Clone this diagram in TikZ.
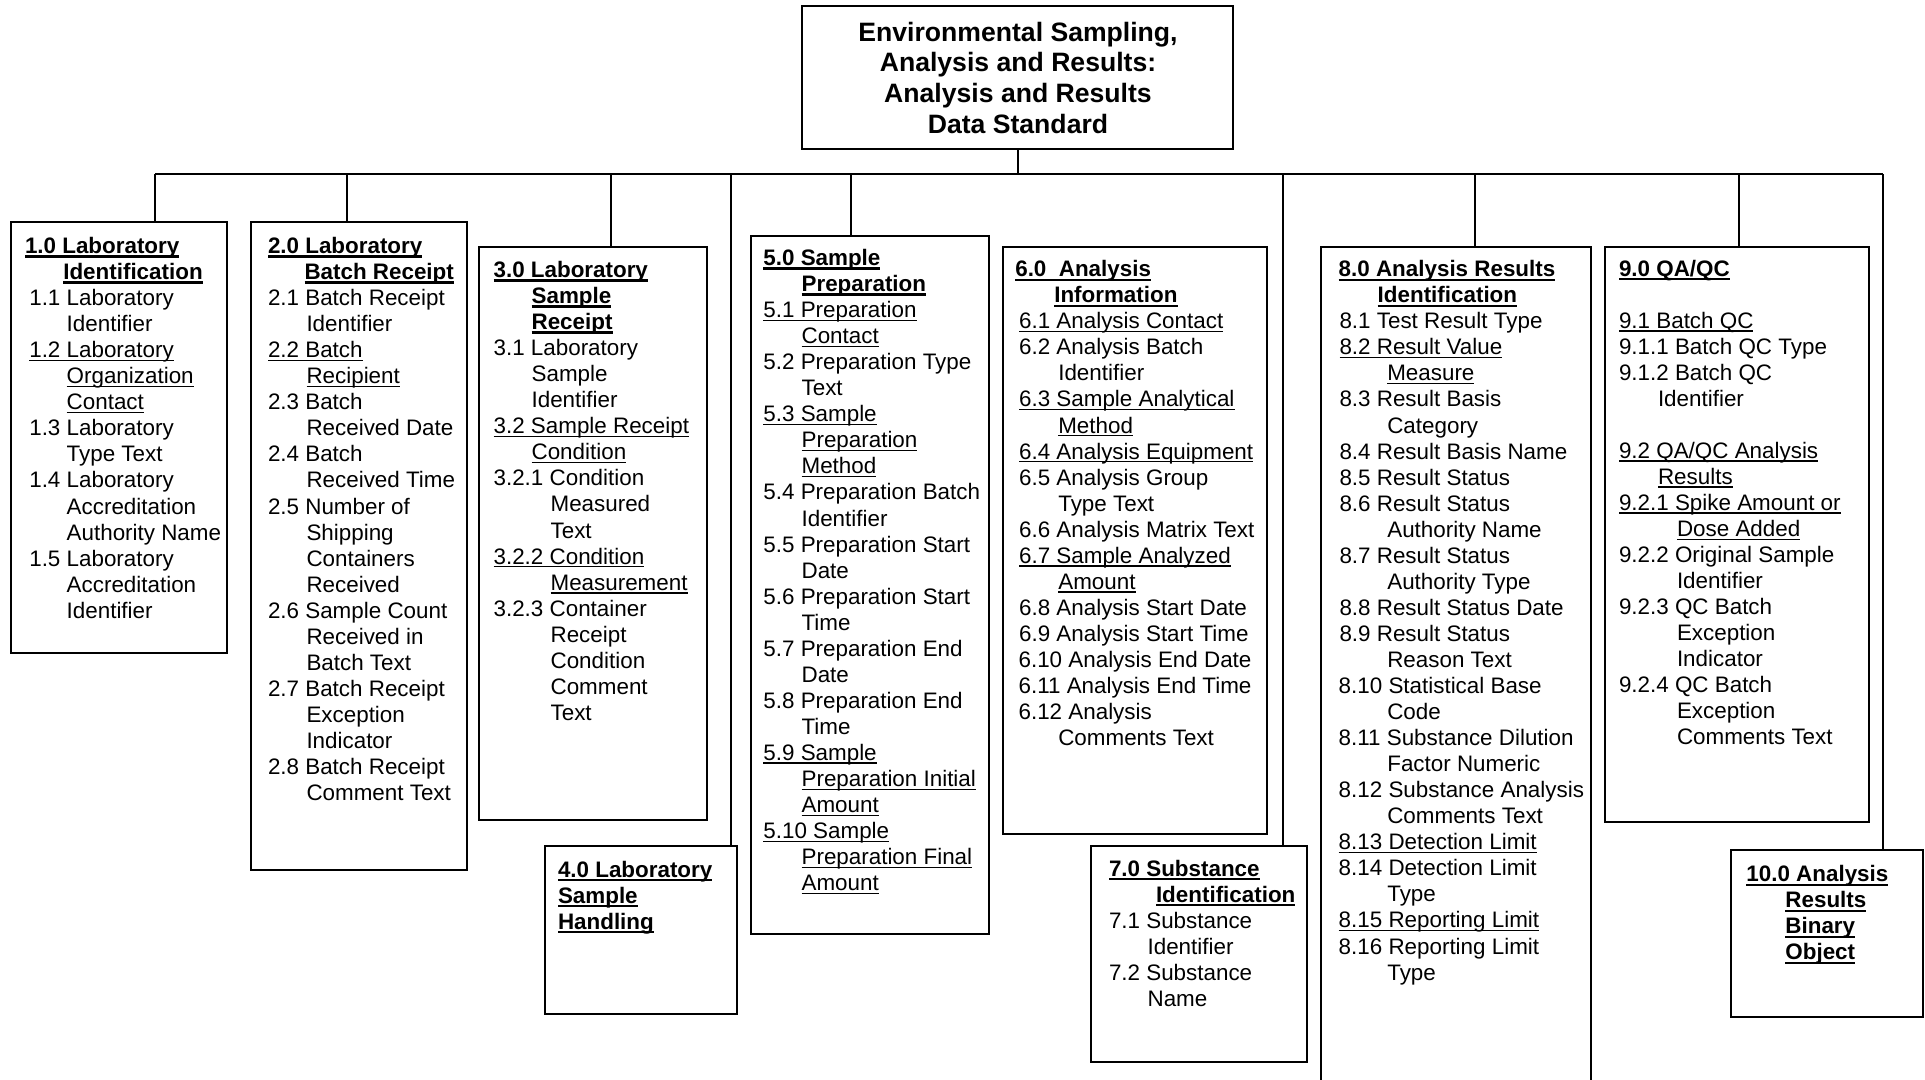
\documentclass[tikz,border=0pt]{standalone}
\usepackage{fontspec}
\setmainfont{Liberation Sans}
\newcommand\rowx[2]{\hbox{\kern#1pt\relax#2}}
\newcommand\ulr[1]{\setbox0\hbox{#1}\rlap{\rule[-3.4pt]{\wd0}{1.4pt}}\box0}
\newcommand\ulb[1]{\setbox0\hbox{\bfseries #1}\rlap{\rule[-4pt]{\wd0}{2.2pt}}\box0}
\newcommand\blk[1]{\vtop{\fontsize{22.4}{26.05}\selectfont\baselineskip=26.05pt\lineskiplimit=-100pt\lineskip=0pt #1}}
\tikzset{
  boxr/.style={draw=black, line width=2pt, inner sep=0pt, outer sep=0pt, anchor=north west},
  txt/.style={anchor=base west, inner sep=0pt, outer sep=0pt},
  conn/.style={draw=black, line width=2pt}
}
\begin{document}
\begin{tikzpicture}[x=1pt,y=-1pt]
\useasboundingbox (0,0) rectangle (1925,1079);
\clip (0,0) rectangle (1925,1079);
% boxes
\node[boxr, minimum width=431pt, minimum height=143pt] (top) at (802,6) {};
\node[boxr, minimum width=216pt, minimum height=431pt] (b1) at (11,222) {};
\node[boxr, minimum width=216pt, minimum height=648pt] (b2) at (251,222) {};
\node[boxr, minimum width=228pt, minimum height=573pt] (b3) at (479,247) {};
\node[boxr, minimum width=192pt, minimum height=168pt] (b4) at (545,846) {};
\node[boxr, minimum width=238pt, minimum height=698pt] (b5) at (751,236) {};
\node[boxr, minimum width=264pt, minimum height=587pt] (b6) at (1003,247) {};
\node[boxr, minimum width=216pt, minimum height=216pt] (b7) at (1091,846) {};
\node[boxr, minimum width=270pt, minimum height=863pt] (b8) at (1321,247) {};
\node[boxr, minimum width=264pt, minimum height=575pt] (b9) at (1605,247) {};
\node[boxr, minimum width=192pt, minimum height=167pt] (b10) at (1731,850) {};
% connectors
\coordinate (busL) at (155,174);
\coordinate (busR) at (1883,174);
\coordinate (d1) at (155,174);
\coordinate (d2) at (347,174);
\coordinate (d3) at (611,174);
\coordinate (d4) at (731,174);
\coordinate (d5) at (851,174);
\coordinate (d7) at (1283,174);
\coordinate (d8) at (1475,174);
\coordinate (d9) at (1739,174);
\coordinate (d10) at (1883,174);
\draw[conn] (top.south) -- (top.south |- busL);
\draw[conn] (busL) -- (busR);
\draw[conn] (d1) -- (d1 |- b1.north);
\draw[conn] (d2) -- (d2 |- b2.north);
\draw[conn] (d3) -- (d3 |- b3.north);
\draw[conn] (d4) -- (d4 |- b4.north);
\draw[conn] (d5) -- (d5 |- b5.north);
\draw[conn] (d7) -- (d7 |- b7.north);
\draw[conn] (d8) -- (d8 |- b8.north);
\draw[conn] (d9) -- (d9 |- b9.north);
\draw[conn] (d10) -- (d10 |- b10.north);
% title
\node[anchor=base, inner sep=0pt] (tt) at (1018,41) {\vtop{\fontsize{26.6}{30.7}\selectfont\bfseries\baselineskip=30.7pt\lineskiplimit=-100pt\lineskip=0pt
 \hbox to 0pt{\hss Environmental Sampling,\hss}
 \hbox to 0pt{\hss Analysis and Results:\hss}
 \hbox to 0pt{\hss Analysis and Results\hss}
 \hbox to 0pt{\hss Data Standard\hss}}};
% box 1
\node[txt] (t1) at (25,253.5) {\blk{
 \rowx{0}{\ulb{1.0 Laboratory}}
 \rowx{38.3}{\ulb{Identification}}
 \rowx{4.3}{1.1 Laboratory}
 \rowx{41.7}{Identifier}
 \rowx{4.3}{\ulr{1.2 Laboratory}}
 \rowx{41.7}{\ulr{Organization}}
 \rowx{41.7}{\ulr{Contact}}
 \rowx{4.3}{1.3 Laboratory}
 \rowx{41.7}{Type Text}
 \rowx{4.3}{1.4 Laboratory}
 \rowx{41.7}{Accreditation}
 \rowx{41.7}{Authority Name}
 \rowx{4.3}{1.5 Laboratory}
 \rowx{41.7}{Accreditation}
 \rowx{41.7}{Identifier}}};
% box 2
\node[txt] (t2) at (268,253.5) {\blk{
 \rowx{0}{\ulb{2.0 Laboratory}}
 \rowx{36.5}{\ulb{Batch Receipt}}
 \rowx{0}{2.1 Batch Receipt}
 \rowx{38.5}{Identifier}
 \rowx{0}{\ulr{2.2 Batch}}
 \rowx{38.5}{\ulr{Recipient}}
 \rowx{0}{2.3 Batch}
 \rowx{38.5}{Received Date}
 \rowx{0}{2.4 Batch}
 \rowx{38.5}{Received Time}
 \rowx{0}{2.5 Number of}
 \rowx{38.5}{Shipping}
 \rowx{38.5}{Containers}
 \rowx{38.5}{Received}
 \rowx{0}{2.6 Sample Count}
 \rowx{38.5}{Received in}
 \rowx{38.5}{Batch Text}
 \rowx{0}{2.7 Batch Receipt}
 \rowx{38.5}{Exception}
 \rowx{38.5}{Indicator}
 \rowx{0}{2.8 Batch Receipt}
 \rowx{38.5}{Comment Text}}};
% box 3
\node[txt] (t3) at (493.6,277.5) {\blk{
 \rowx{0}{\ulb{3.0 Laboratory}}
 \rowx{38}{\ulb{Sample}}
 \rowx{38}{\ulb{Receipt}}
 \rowx{0}{3.1 Laboratory}
 \rowx{38}{Sample}
 \rowx{38}{Identifier}
 \rowx{0}{\ulr{3.2 Sample Receipt}}
 \rowx{38}{\ulr{Condition}}
 \rowx{0}{3.2.1 Condition}
 \rowx{57}{Measured}
 \rowx{57}{Text}
 \rowx{0}{\ulr{3.2.2 Condition}}
 \rowx{57}{\ulr{Measurement}}
 \rowx{0}{3.2.3 Container}
 \rowx{57}{Receipt}
 \rowx{57}{Condition}
 \rowx{57}{Comment}
 \rowx{57}{Text}}};
% box 4
\node[txt] (t4) at (558,877) {\blk{
 \rowx{0}{\ulb{4.0 Laboratory}}
 \rowx{0}{\ulb{Sample}}
 \rowx{0}{\ulb{Handling}}}};
% box 5
\node[txt] (t5) at (763.4,265.5) {\blk{
 \rowx{0}{\ulb{5.0 Sample}}
 \rowx{38.2}{\ulb{Preparation}}
 \rowx{0}{\ulr{5.1 Preparation}}
 \rowx{38.2}{\ulr{Contact}}
 \rowx{0}{5.2 Preparation Type}
 \rowx{38.2}{Text}
 \rowx{0}{\ulr{5.3 Sample}}
 \rowx{38.2}{\ulr{Preparation}}
 \rowx{38.2}{\ulr{Method}}
 \rowx{0}{5.4 Preparation Batch}
 \rowx{38.2}{Identifier}
 \rowx{0}{5.5 Preparation Start}
 \rowx{38.2}{Date}
 \rowx{0}{5.6 Preparation Start}
 \rowx{38.2}{Time}
 \rowx{0}{5.7 Preparation End}
 \rowx{38.2}{Date}
 \rowx{0}{5.8 Preparation End}
 \rowx{38.2}{Time}
 \rowx{0}{\ulr{5.9 Sample}}
 \rowx{38.2}{\ulr{Preparation Initial}}
 \rowx{38.2}{\ulr{Amount}}
 \rowx{0}{\ulr{5.10 Sample}}
 \rowx{38.2}{\ulr{Preparation Final}}
 \rowx{38.2}{\ulr{Amount}}}};
% box 6
\node[txt] (t6) at (1015.3,276.7) {\blk{
 \rowx{0}{\ulb{6.0\ \ Analysis}}
 \rowx{39}{\ulb{Information}}
 \rowx{3.8}{\ulr{6.1 Analysis Contact}}
 \rowx{3.8}{6.2 Analysis Batch}
 \rowx{43}{Identifier}
 \rowx{3.8}{\ulr{6.3 Sample Analytical}}
 \rowx{43}{\ulr{Method}}
 \rowx{3.8}{\ulr{6.4 Analysis Equipment}}
 \rowx{3.8}{6.5 Analysis Group}
 \rowx{43}{Type Text}
 \rowx{3.8}{6.6 Analysis Matrix Text}
 \rowx{3.8}{\ulr{6.7 Sample Analyzed}}
 \rowx{43}{\ulr{Amount}}
 \rowx{3.8}{6.8 Analysis Start Date}
 \rowx{3.8}{6.9 Analysis Start Time}
 \rowx{3.3}{6.10 Analysis End Date}
 \rowx{3.3}{6.11 Analysis End Time}
 \rowx{3.3}{6.12 Analysis}
 \rowx{43}{Comments Text}}};
% box 7
\node[txt] (t7) at (1109,876) {\blk{
 \rowx{0}{\ulb{7.0 Substance}}
 \rowx{47}{\ulb{Identification}}
 \rowx{0}{7.1 Substance}
 \rowx{38.6}{Identifier}
 \rowx{0}{7.2 Substance}
 \rowx{38.6}{Name}}};
% box 8
\node[txt] (t8) at (1338.7,276.7) {\blk{
 \rowx{0}{\ulb{8.0 Analysis Results}}
 \rowx{39}{\ulb{Identification}}
 \rowx{0.8}{8.1 Test Result Type}
 \rowx{0.8}{\ulr{8.2 Result Value}}
 \rowx{48.6}{\ulr{Measure}}
 \rowx{0.8}{8.3 Result Basis}
 \rowx{48.6}{Category}
 \rowx{0.8}{8.4 Result Basis Name}
 \rowx{0.8}{8.5 Result Status}
 \rowx{0.8}{8.6 Result Status}
 \rowx{48.6}{Authority Name}
 \rowx{0.8}{8.7 Result Status}
 \rowx{48.6}{Authority Type}
 \rowx{0.8}{8.8 Result Status Date}
 \rowx{0.8}{8.9 Result Status}
 \rowx{48.6}{Reason Text}
 \rowx{0}{8.10 Statistical Base}
 \rowx{48.6}{Code}
 \rowx{0}{8.11 Substance Dilution}
 \rowx{48.6}{Factor Numeric}
 \rowx{0}{8.12 Substance Analysis}
 \rowx{48.6}{Comments Text}
 \rowx{0}{\ulr{8.13 Detection Limit}}
 \rowx{0}{8.14 Detection Limit}
 \rowx{48.6}{Type}
 \rowx{0}{\ulr{8.15 Reporting Limit}}
 \rowx{0}{8.16 Reporting Limit}
 \rowx{48.6}{Type}}};
% box 9
\node[txt] (t9) at (1619,276) {\blk{
 \rowx{0}{\ulb{9.0 QA/QC}}
 \rowx{0}{}
 \rowx{0}{\ulr{9.1 Batch QC}}
 \rowx{0}{9.1.1 Batch QC Type}
 \rowx{0}{9.1.2 Batch QC}
 \rowx{39}{Identifier}
 \rowx{0}{}
 \rowx{0}{\ulr{9.2 QA/QC Analysis}}
 \rowx{39}{\ulr{Results}}
 \rowx{0}{\ulr{9.2.1 Spike Amount or}}
 \rowx{58}{\ulr{Dose Added}}
 \rowx{0}{9.2.2 Original Sample}
 \rowx{58}{Identifier}
 \rowx{0}{9.2.3 QC Batch}
 \rowx{58}{Exception}
 \rowx{58}{Indicator}
 \rowx{0}{9.2.4 QC Batch}
 \rowx{58}{Exception}
 \rowx{58}{Comments Text}}};
% box 10
\node[txt] (t10) at (1746.4,881.7) {\blk{
 \rowx{0}{\ulb{10.0 Analysis}}
 \rowx{39}{\ulb{Results}}
 \rowx{39}{\ulb{Binary}}
 \rowx{39}{\ulb{Object}}}};
\end{tikzpicture}
\end{document}
